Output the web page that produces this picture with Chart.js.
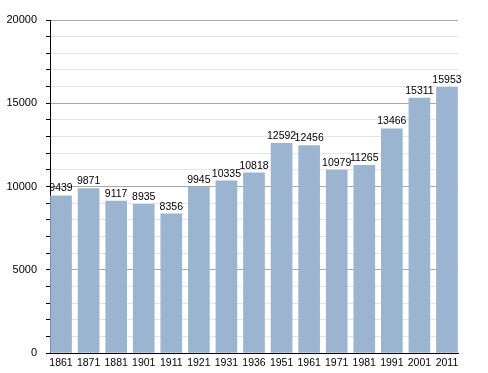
<!DOCTYPE html>
<html>
<head>
<meta charset="utf-8">
<script src="https://cdn.jsdelivr.net/npm/chart.js@4/dist/chart.umd.min.js"></script>
<style>
  html, body { margin: 0; padding: 0; background: #fff; }
  #wrap { width: 488px; height: 373px; }
</style>
</head>
<body>
<div id="wrap"><canvas id="chart" width="488" height="373"></canvas></div>
<script>
// census years and population counts
const years = ['1861', '1871', '1881', '1901', '1911', '1921', '1931', '1936',
  '1951', '1961', '1971', '1981', '1991', '2001', '2011'];
const population = [9439, 9871, 9117, 8935, 8356, 9945, 10335, 10818,
  12592, 12456, 10979, 11265, 13466, 15311, 15953];
const yTicks = [0, 5000, 10000, 15000, 20000];

const font = "'Liberation Sans', Arial, sans-serif";

// value labels drawn just above each bar
const barLabels = {
  id: 'barLabels',
  afterDatasetsDraw(chart) {
    const { ctx } = chart;
    const meta = chart.getDatasetMeta(0);
    ctx.save();
    ctx.font = '10.5px ' + font;
    ctx.fillStyle = '#000';
    ctx.textAlign = 'center';
    ctx.textBaseline = 'bottom';
    meta.data.forEach((bar, i) => {
      ctx.fillText(String(population[i]), bar.x, bar.y - 2);
    });
    ctx.restore();
  }
};

new Chart(document.getElementById('chart'), {
  type: 'bar',
  data: {
    datasets: [{
      data: population.map((v, i) => ({ x: i, y: v })),
      backgroundColor: '#9bb4cf',
      borderWidth: 0,
      barThickness: 21
    }]
  },
  options: {
    responsive: false,
    animation: false,
    layout: { padding: { top: 20, right: 30, left: 0, bottom: 0 } },
    plugins: { legend: { display: false }, tooltip: { enabled: false } },
    scales: {
      x: {
        type: 'linear',
        offset: false,
        min: -0.4,
        max: 14.4,
        afterBuildTicks: (s) => { s.ticks = years.map((_, i) => ({ value: i })); },
        afterFit: (s) => { s.height = 20; },
        grid: { display: false, drawTicks: false, offset: false },
        border: { color: '#000', width: 1 },
        ticks: {
          padding: 4,
          autoSkip: false,
          maxRotation: 0,
          color: '#000',
          font: { family: font, size: 10.5 },
          callback: (v) => years[v] ?? ''
        }
      },
      y: {
        min: 0,
        max: 20000,
        afterFit: (s) => { s.width = 50; },
        ticks: {
          stepSize: 1000,
          padding: 9,
          color: '#000',
          font: { family: font, size: 11 },
          callback: (v) => yTicks.includes(v) ? String(v) : ''
        },
        grid: {
          color: (c) => (c.tick && c.tick.value % 5000 === 0) ? '#a8a8a8' : '#e4e4e4',
          tickColor: '#000',
          tickLength: 4
        },
        border: { color: '#000', width: 1 }
      }
    }
  },
  plugins: [barLabels]
});
</script>
</body>
</html>
